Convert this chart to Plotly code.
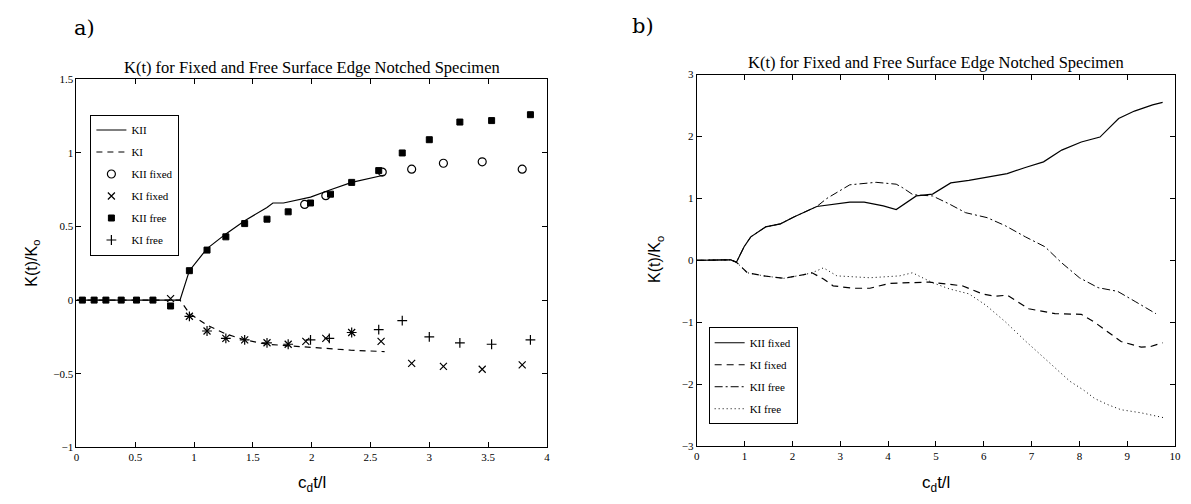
import plotly.graph_objects as go

# ---------------- Panel a) data ----------------
a_kii_line_x = [0, 0.88, 0.96, 1.11, 1.27, 1.43, 1.62, 1.67, 1.76, 1.99, 2.16, 2.34, 2.62]
a_kii_line_y = [0, 0, 0.20, 0.35, 0.45, 0.54, 0.63, 0.66, 0.66, 0.70, 0.75, 0.80, 0.85]

a_ki_line_x = [0, 0.88, 0.96, 1.11, 1.27, 1.43, 1.62, 1.80, 1.99, 2.33, 2.62]
a_ki_line_y = [0, 0, -0.09, -0.17, -0.23, -0.27, -0.30, -0.31, -0.32, -0.34, -0.35]

a_kii_fixed_x = [1.94, 2.12, 2.60, 2.85, 3.12, 3.45, 3.79]
a_kii_fixed_y = [0.65, 0.71, 0.87, 0.89, 0.93, 0.94, 0.89]

a_ki_fixed_x = [0.80, 0.96, 1.11, 1.27, 1.43, 1.62, 1.80, 1.95, 2.12, 2.34, 2.59, 2.85, 3.12, 3.45, 3.79]
a_ki_fixed_y = [0.01, -0.11, -0.21, -0.26, -0.27, -0.29, -0.30, -0.28, -0.26, -0.22, -0.28, -0.43, -0.45, -0.47, -0.44]

a_kii_free_x = [0.05, 0.15, 0.25, 0.38, 0.51, 0.65, 0.80, 0.96, 1.11, 1.27, 1.43, 1.62, 1.80,
                1.99, 2.16, 2.34, 2.57, 2.77, 3.00, 3.26, 3.53, 3.86]
a_kii_free_y = [0, 0, 0, 0, 0, 0, -0.04, 0.20, 0.34, 0.43, 0.52, 0.55, 0.60,
                0.66, 0.72, 0.80, 0.88, 1.00, 1.09, 1.21, 1.22, 1.26]

a_ki_free_x = [0.96, 1.11, 1.27, 1.43, 1.62, 1.80, 1.99, 2.15, 2.34, 2.57, 2.77, 3.00, 3.26, 3.53, 3.86]
a_ki_free_y = [-0.11, -0.21, -0.26, -0.27, -0.29, -0.30, -0.27, -0.26, -0.22, -0.20, -0.14, -0.25, -0.29, -0.30, -0.27]

a_xticks = [0, 0.5, 1, 1.5, 2, 2.5, 3, 3.5, 4]
a_yticks = [-1, -0.5, 0, 0.5, 1, 1.5]

# ---------------- Panel b) data ----------------
b_kii_fixed_x = [0, 0.71, 0.83, 0.99, 1.13, 1.44, 1.75, 2.03, 2.51, 3.0, 3.20, 3.5, 3.9, 4.17,
                 4.59, 4.93, 5.31, 5.69, 6.07, 6.49, 6.87, 7.25, 7.63, 8.04, 8.43, 8.82, 9.15, 9.53, 9.74]
b_kii_fixed_y = [0, 0.01, -0.03, 0.22, 0.38, 0.54, 0.59, 0.70, 0.87, 0.92, 0.94, 0.94, 0.88, 0.82,
                 1.04, 1.07, 1.25, 1.29, 1.34, 1.40, 1.50, 1.59, 1.78, 1.91, 1.99, 2.29, 2.41, 2.51, 2.55]

b_ki_fixed_x = [0, 0.71, 0.83, 1.06, 1.40, 1.82, 2.24, 2.41, 2.65, 2.85, 3.27, 3.62, 4.03, 4.51,
                4.86, 5.55, 5.97, 6.24, 6.49, 6.94, 7.49, 8.04, 8.32, 8.87, 9.29, 9.49, 9.74]
b_ki_fixed_y = [0, 0.01, -0.03, -0.20, -0.25, -0.29, -0.23, -0.20, -0.30, -0.41, -0.45, -0.45, -0.37, -0.36,
                -0.35, -0.41, -0.54, -0.58, -0.56, -0.78, -0.86, -0.87, -1.0, -1.31, -1.40, -1.39, -1.33]

b_kii_free_x = [0, 0.71, 0.83, 0.99, 1.13, 1.44, 1.75, 2.03, 2.51, 2.72, 3.20, 3.75, 4.17, 4.31,
                4.52, 4.66, 4.93, 5.28, 5.62, 6.07, 6.45, 6.87, 7.28, 7.63, 8.0, 8.39, 8.80, 9.18, 9.6]
b_kii_free_y = [0, 0.01, -0.03, 0.22, 0.38, 0.54, 0.59, 0.70, 0.87, 1.0, 1.22, 1.26, 1.23, 1.17,
                1.06, 1.05, 1.04, 0.91, 0.77, 0.69, 0.56, 0.38, 0.22, -0.04, -0.28, -0.44, -0.50, -0.67, -0.86]

b_ki_free_x = [0, 0.71, 0.83, 1.06, 1.40, 1.82, 2.24, 2.41, 2.65, 2.93, 3.62, 4.24, 4.51, 4.93,
               5.28, 5.69, 6.04, 6.45, 6.87, 7.21, 7.5, 7.8, 8.1, 8.32, 8.60, 8.87, 9.29, 9.77]
b_ki_free_y = [0, 0.01, -0.03, -0.20, -0.25, -0.29, -0.23, -0.20, -0.12, -0.25, -0.28, -0.25, -0.20, -0.36,
               -0.46, -0.54, -0.72, -0.99, -1.30, -1.54, -1.75, -1.95, -2.10, -2.23, -2.33, -2.41, -2.46, -2.54]

b_xticks = [0, 1, 2, 3, 4, 5, 6, 7, 8, 9, 10]
b_yticks = [-3, -2, -1, 0, 1, 2, 3]

title_text = "K(t) for Fixed and Free Surface Edge Notched Specimen"

# ---------------- Layout geometry ----------------
# The page body has an 8px default margin, so the figure is offset by 8px.
OFF = 8
W, H = 1191 - OFF, 504 - OFF
SERIF = "Liberation Serif"
SANS = "Liberation Sans"


def fx(px):
    return (px - OFF) / W


def fy(py):
    return 1 - (py - OFF) / H


fig = go.Figure()

# Panel a traces
fig.add_trace(go.Scatter(x=a_kii_line_x, y=a_kii_line_y, mode="lines", name="KII",
                         line=dict(color="black", width=1.2), xaxis="x", yaxis="y",
                         legend="legend", legendgroup="a1"))
fig.add_trace(go.Scatter(x=a_ki_line_x, y=a_ki_line_y, mode="lines", name="KI",
                         line=dict(color="black", width=1.2, dash="6px,5px"), xaxis="x", yaxis="y",
                         legend="legend", legendgroup="a2"))
fig.add_trace(go.Scatter(x=a_kii_fixed_x, y=a_kii_fixed_y, mode="markers", name="KII fixed",
                         marker=dict(symbol="circle-open", size=8, color="black", line=dict(width=1.2)),
                         xaxis="x", yaxis="y", legend="legend", legendgroup="a3"))
fig.add_trace(go.Scatter(x=a_ki_fixed_x, y=a_ki_fixed_y, mode="markers", name="KI fixed",
                         marker=dict(symbol="x-thin-open", size=7, color="black", line=dict(width=1.2)),
                         xaxis="x", yaxis="y", legend="legend", legendgroup="a4"))
fig.add_trace(go.Scatter(x=a_kii_free_x, y=a_kii_free_y, mode="markers", name="KII free",
                         marker=dict(symbol="square", size=6, color="black", line=dict(width=1, color="black")),
                         xaxis="x", yaxis="y", legend="legend", legendgroup="a5"))
fig.add_trace(go.Scatter(x=a_ki_free_x, y=a_ki_free_y, mode="markers", name="KI free",
                         marker=dict(symbol="cross-thin-open", size=7, color="black", line=dict(width=1.2)),
                         xaxis="x", yaxis="y", legend="legend", legendgroup="a6"))

# Panel b traces
fig.add_trace(go.Scatter(x=b_kii_fixed_x, y=b_kii_fixed_y, mode="lines", name="KII fixed",
                         line=dict(color="black", width=1.2), xaxis="x2", yaxis="y2",
                         legend="legend2", legendgroup="b1"))
fig.add_trace(go.Scatter(x=b_ki_fixed_x, y=b_ki_fixed_y, mode="lines", name="KI fixed",
                         line=dict(color="black", width=1.2, dash="7px,5px"), xaxis="x2", yaxis="y2",
                         legend="legend2", legendgroup="b2"))
fig.add_trace(go.Scatter(x=b_kii_free_x, y=b_kii_free_y, mode="lines", name="KII free",
                         line=dict(color="black", width=1, dash="8px,3px,2px,3px"), xaxis="x2", yaxis="y2",
                         legend="legend2", legendgroup="b3"))
fig.add_trace(go.Scatter(x=b_ki_free_x, y=b_ki_free_y, mode="lines", name="KI free",
                         line=dict(color="black", width=1, dash="1px,3px"), xaxis="x2", yaxis="y2",
                         legend="legend2", legendgroup="b4"))

axis_common = dict(showline=True, linecolor="black", linewidth=1, mirror="ticks",
                   ticks="inside", ticklen=5, tickcolor="black", showgrid=False, zeroline=False,
                   tickfont=dict(family=SERIF, size=11, color="black"))

legend_common = dict(bgcolor="white", bordercolor="black", borderwidth=1,
                     font=dict(family=SERIF, size=11, color="black"),
                     xanchor="left", yanchor="top", tracegroupgap=3, itemwidth=30)


def ann(text, x, y, size, family, angle=0):
    return dict(text=text, x=fx(x), y=fy(y), xref="paper", yref="paper", showarrow=False,
                xanchor="center", yanchor="middle", textangle=angle,
                font=dict(family=family, size=size, color="black"))


fig.update_layout(
    width=W, height=H,
    margin=dict(l=0, r=0, t=0, b=0),
    paper_bgcolor="white", plot_bgcolor="white",
    showlegend=True,
    xaxis=dict(domain=[fx(74), fx(548)], range=[0, 4], tickvals=a_xticks,
               ticktext=[str(v) for v in a_xticks], anchor="y", **axis_common),
    yaxis=dict(domain=[fy(452), fy(75)], range=[-1, 1.5], tickvals=a_yticks,
               ticktext=[str(v).replace("-", "\u2212") for v in a_yticks], anchor="x", **axis_common),
    xaxis2=dict(domain=[fx(699), fx(1181)], range=[0, 10], tickvals=b_xticks,
                anchor="y2", **axis_common),
    yaxis2=dict(domain=[fy(451), fy(70)], range=[-3, 3], tickvals=b_yticks,
                anchor="x2", **axis_common),
    legend=dict(x=fx(88), y=fy(111), **legend_common),
    legend2=dict(x=fx(711), y=fy(329), **legend_common),
    annotations=[
        ann("a)", 82, 22, 21, "DejaVu Serif"),
        ann("b)", 645, 20, 21, "DejaVu Serif"),
        ann(title_text, 311, 63, 16.5, SERIF),
        ann(title_text, 940, 58, 16.5, SERIF),
        ann("K(t)/K<sub>o</sub>", 30, 263, 16, SANS, -90),
        ann("K(t)/K<sub>o</sub>", 658, 260, 16, SANS, -90),
        ann("c<sub>d</sub>t/l", 311, 490, 17, SANS),
        ann("c<sub>d</sub>t/l", 940, 490, 17, SANS),
    ],
)

fig.write_html("out.html")
